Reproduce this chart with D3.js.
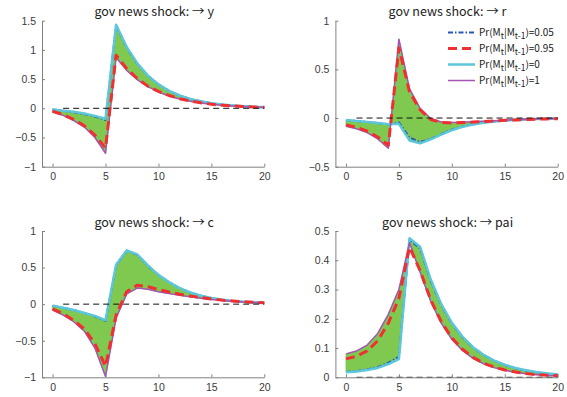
<!DOCTYPE html>
<html>
<head>
<meta charset="utf-8">
<script src="https://cdn.jsdelivr.net/npm/d3@7"></script>
<style>
  body { margin: 0; background: #fff; }
  svg { font-family: "Noto Sans CJK JP", "Noto Sans", sans-serif; }
</style>
</head>
<body>
<script>
// periods on the x axis
var periods = [0,1,2,3,4,5,6,7,8,9,10,11,12,13,14,15,16,17,18,19,20];
var xTicks = [0,5,10,15,20];

// y : output
var yP0   = [-0.02,-0.04,-0.06,-0.09,-0.13,-0.18,1.43,1.05,0.77,0.56,0.41,0.30,0.22,0.16,0.12,0.087,0.064,0.047,0.034,0.025,0.018];
var yP005 = [-0.02,-0.04,-0.07,-0.10,-0.14,-0.20,1.42,1.04,0.76,0.56,0.41,0.30,0.22,0.16,0.12,0.087,0.064,0.047,0.034,0.025,0.018];
var yP095 = [-0.05,-0.11,-0.19,-0.30,-0.46,-0.68,0.91,0.68,0.51,0.38,0.29,0.22,0.165,0.125,0.094,0.07,0.053,0.04,0.03,0.022,0.017];
var yP1   = [-0.06,-0.12,-0.21,-0.32,-0.50,-0.77,0.87,0.65,0.49,0.37,0.28,0.21,0.16,0.12,0.09,0.068,0.051,0.038,0.029,0.022,0.016];

// r : interest rate
var rP0   = [-0.02,-0.03,-0.04,-0.05,-0.065,-0.06,-0.23,-0.26,-0.22,-0.17,-0.125,-0.09,-0.066,-0.048,-0.035,-0.026,-0.019,-0.014,-0.01,-0.007,-0.005];
var rP005 = [-0.02,-0.03,-0.04,-0.05,-0.065,-0.045,-0.2,-0.245,-0.215,-0.165,-0.12,-0.088,-0.064,-0.047,-0.034,-0.025,-0.018,-0.013,-0.01,-0.007,-0.005];
var rP095 = [-0.07,-0.095,-0.135,-0.195,-0.28,0.72,0.27,0.085,-0.015,-0.045,-0.05,-0.047,-0.042,-0.036,-0.03,-0.024,-0.019,-0.015,-0.011,-0.009,-0.007];
var rP1   = [-0.085,-0.11,-0.15,-0.215,-0.31,0.81,0.30,0.10,-0.005,-0.04,-0.045,-0.043,-0.038,-0.032,-0.027,-0.022,-0.017,-0.013,-0.01,-0.008,-0.006];

// c : consumption
var cP0   = [-0.02,-0.05,-0.08,-0.12,-0.16,-0.22,0.54,0.735,0.68,0.53,0.40,0.30,0.22,0.16,0.115,0.083,0.06,0.044,0.032,0.024,0.018];
var cP005 = [-0.02,-0.05,-0.08,-0.12,-0.165,-0.23,0.53,0.73,0.675,0.525,0.40,0.30,0.22,0.16,0.115,0.083,0.06,0.044,0.032,0.024,0.018];
var cP095 = [-0.065,-0.13,-0.22,-0.34,-0.54,-0.85,-0.15,0.17,0.26,0.24,0.20,0.165,0.135,0.11,0.09,0.07,0.055,0.043,0.033,0.026,0.02];
var cP1   = [-0.08,-0.15,-0.24,-0.37,-0.60,-0.99,-0.19,0.14,0.22,0.205,0.17,0.145,0.12,0.10,0.08,0.063,0.05,0.04,0.03,0.024,0.018];

// pai : inflation
var piP0   = [0.017,0.02,0.025,0.032,0.045,0.062,0.475,0.446,0.335,0.25,0.186,0.139,0.103,0.077,0.057,0.043,0.032,0.024,0.018,0.013,0.01];
var piP005 = [0.018,0.021,0.027,0.035,0.05,0.07,0.47,0.44,0.33,0.247,0.184,0.137,0.102,0.076,0.057,0.042,0.031,0.023,0.017,0.013,0.01];
var piP095 = [0.063,0.072,0.09,0.125,0.185,0.27,0.445,0.365,0.265,0.19,0.135,0.096,0.068,0.048,0.035,0.025,0.018,0.013,0.009,0.007,0.005];
var piP1   = [0.08,0.09,0.11,0.15,0.215,0.30,0.46,0.36,0.26,0.185,0.13,0.092,0.065,0.046,0.033,0.024,0.017,0.012,0.009,0.006,0.005];

var legendLabels = ["0.05", "0.95", "0", "1"];

var width = 567, height = 397;

// series style : blue dash-dot, red dashed, cyan, magenta
var styles = {
  p005: { stroke: '#2a56b8', width: 2, dash: '5,2,1.5,2' },
  p095: { stroke: '#f03030', width: 3, dash: '9,5' },
  p0:   { stroke: '#5cc6da', width: 2.5, dash: null },
  p1:   { stroke: '#a455b4', width: 1.5, dash: null }
};
var green = '#80c950';

var panels = [
  { name: 'y',   left: 42,    right: 264.3, top: 20.7, bottom: 166.7, dom: [-1, 1.5], ticks: [-1,-0.5,0,0.5,1,1.5],
    p0: yP0, p005: yP005, p095: yP095, p1: yP1 },
  { name: 'r',   left: 335.4, right: 557.7, top: 20.7, bottom: 166.7, dom: [-0.5, 1], ticks: [-0.5,0,0.5,1],
    p0: rP0, p005: rP005, p095: rP095, p1: rP1, legend: true },
  { name: 'c',   left: 42,    right: 264.3, top: 231, bottom: 377.3, dom: [-1, 1], ticks: [-1,-0.5,0,0.5,1],
    p0: cP0, p005: cP005, p095: cP095, p1: cP1 },
  { name: 'pai', left: 335.4, right: 557.7, top: 231, bottom: 377.3, dom: [0, 0.5], ticks: [0,0.1,0.2,0.3,0.4,0.5],
    p0: piP0, p005: piP005, p095: piP095, p1: piP1 }
];

function fmt(d) {
  if (d === 0) return '0';
  return (d < 0 ? '\u2212' : '') + String(Math.abs(d));
}

var svg = d3.select('body').append('svg')
  .attr('width', width)
  .attr('height', height);

panels.forEach(function (p) {
  var x = d3.scaleLinear().domain([-1, 20]).range([p.left, p.right]);
  var y = d3.scaleLinear().domain(p.dom).range([p.bottom, p.top]);
  var g = svg.append('g');

  // green family, filled between the two extreme regimes
  var band = d3.area()
    .x(function (d, i) { return x(periods[i]); })
    .y0(function (d, i) { return y(p.p1[i]); })
    .y1(function (d, i) { return y(p.p0[i]); });
  g.append('path')
    .datum(periods)
    .attr('d', band)
    .attr('fill', green)
    .attr('stroke', green)
    .attr('stroke-width', 0.8);

  var line = d3.line()
    .x(function (d, i) { return x(periods[i]); })
    .y(function (d) { return y(d); });

  // blue under cyan, red over magenta
  ['p005', 'p0', 'p1', 'p095'].forEach(function (k) {
    g.append('path')
      .datum(p[k])
      .attr('d', line)
      .attr('fill', 'none')
      .attr('stroke', styles[k].stroke)
      .attr('stroke-width', styles[k].width)
      .attr('stroke-dasharray', styles[k].dash)
      .attr('stroke-linejoin', 'round');
  });

  // zero reference line
  g.append('line')
    .attr('x1', x(1)).attr('x2', x(20))
    .attr('y1', y(0)).attr('y2', y(0))
    .attr('stroke', '#111')
    .attr('stroke-width', 1)
    .attr('stroke-dasharray', '6,4');

  var xAxis = g.append('g')
    .attr('transform', 'translate(0,' + p.bottom + ')')
    .call(d3.axisBottom(x).tickValues(xTicks).tickFormat(fmt).tickSizeInner(-3).tickSizeOuter(0).tickPadding(6));
  var yAxis = g.append('g')
    .attr('transform', 'translate(' + p.left + ',0)')
    .call(d3.axisLeft(y).tickValues(p.ticks).tickFormat(fmt).tickSizeInner(-3).tickSizeOuter(0).tickPadding(6));
  [xAxis, yAxis].forEach(function (a) {
    a.select('.domain').attr('stroke', '#808080');
    a.selectAll('.tick line').attr('stroke', '#808080');
    a.selectAll('.tick text').attr('fill', '#3a3a3a').style('font-size', '10.5px');
  });

  g.append('text')
    .attr('x', (p.left + p.right) / 2 + 1)
    .attr('y', p.top - 4.5)
    .attr('text-anchor', 'middle')
    .attr('fill', '#222')
    .style('font-size', '12.5px')
    .text('gov news shock: \u2192 ' + p.name);

  if (p.legend) {
    var keys = ['p005', 'p095', 'p0', 'p1'];
    keys.forEach(function (k, i) {
      var ly = 32.5 + i * 16;
      g.append('line')
        .attr('x1', 448).attr('x2', 475)
        .attr('y1', ly).attr('y2', ly)
        .attr('stroke', styles[k].stroke)
        .attr('stroke-width', styles[k].width)
        .attr('stroke-dasharray', styles[k].dash);
      var t = g.append('text')
        .attr('x', 479)
        .attr('y', ly + 3.5)
        .attr('fill', '#222')
        .style('font-size', '10px');
      t.append('tspan').text('Pr(M');
      t.append('tspan').attr('dy', 3).style('font-size', '8.5px').text('t');
      t.append('tspan').attr('dy', -3).text('|M');
      t.append('tspan').attr('dy', 3).style('font-size', '8.5px').text('t-1');
      t.append('tspan').attr('dy', -3).text(')=' + legendLabels[i]);
    });
  }
});
</script>
</body>
</html>
